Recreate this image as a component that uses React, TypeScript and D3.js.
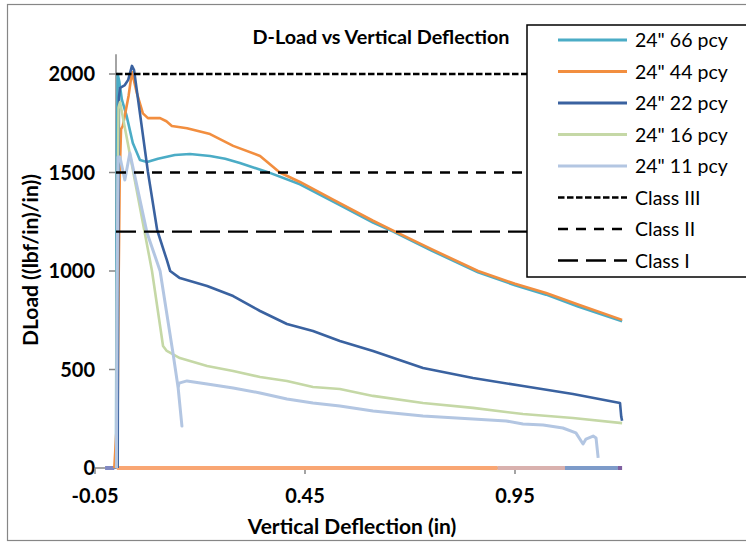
import React from "react";
import * as d3 from "d3";

// ---------- data ----------
const seriesNames = ['24" 66 pcy', '24" 44 pcy', '24" 22 pcy', '24" 16 pcy', '24" 11 pcy'];
const seriesColors = ["#4BACC6", "#F28E3F", "#3A62A0", "#C5D8A6", "#B3C6E2"];

const s66x = [0, 0.001, 0.002, 0.004, 0.008, 0.014, 0.025, 0.04, 0.057, 0.074, 0.1, 0.14, 0.176, 0.224, 0.26, 0.295, 0.36, 0.438, 0.533, 0.612, 0.66, 0.75, 0.862, 0.95, 1.024, 1.1, 1.205];
const s66y = [0, 800, 1600, 2000, 1960, 1870, 1790, 1650, 1563, 1553, 1570, 1589, 1594, 1584, 1570, 1548, 1503, 1440, 1335, 1246, 1200, 1105, 993, 928, 880, 820, 745];

const s44x = [-0.004, 0.004, 0.006, 0.009, 0.012, 0.016, 0.022, 0.03, 0.038, 0.05, 0.064, 0.076, 0.105, 0.12, 0.133, 0.169, 0.224, 0.279, 0.343, 0.39, 0.438, 0.517, 0.612, 0.66, 0.75, 0.862, 0.95, 1.024, 1.1, 1.205];
const s44y = [0, 300, 900, 1500, 1720, 1735, 1800, 1890, 2010, 1900, 1800, 1776, 1776, 1760, 1736, 1725, 1695, 1635, 1584, 1500, 1452, 1362, 1255, 1205, 1112, 1000, 935, 888, 830, 752];

const s22x = [0.004, 0.005, 0.007, 0.0095, 0.021, 0.029, 0.038, 0.043, 0.076, 0.098, 0.121, 0.129, 0.152, 0.217, 0.279, 0.343, 0.407, 0.469, 0.533, 0.612, 0.731, 0.85, 0.969, 1.088, 1.2, 1.203, 1.205];
const s22y = [0, 900, 1880, 1929, 1944, 1970, 2041, 2020, 1503, 1208, 1056, 1000, 964, 924, 873, 797, 731, 695, 645, 594, 508, 457, 416, 376, 330, 260, 240];

const s16x = [0.001, 0.0024, 0.006, 0.0095, 0.0857, 0.112, 0.121, 0.152, 0.217, 0.279, 0.343, 0.407, 0.469, 0.533, 0.612, 0.731, 0.85, 0.969, 1.088, 1.205];
const s16y = [0, 900, 1830, 1858, 1000, 619, 594, 558, 518, 492, 462, 442, 411, 401, 366, 330, 305, 274, 254, 228];

const s11x = [0.001, 0.0024, 0.0048, 0.0095, 0.021, 0.033, 0.074, 0.105, 0.136, 0.148, 0.157, 0.148, 0.15, 0.169, 0.217, 0.279, 0.343, 0.407, 0.469, 0.533, 0.612, 0.731, 0.85, 0.929, 0.969, 1.017, 1.064, 1.095, 1.112, 1.119, 1.136, 1.143, 1.148];
const s11y = [0, 800, 1579, 1579, 1462, 1599, 1193, 1000, 579, 406, 213, 406, 431, 442, 426, 406, 381, 350, 330, 315, 289, 264, 249, 239, 223, 218, 203, 178, 122, 147, 162, 152, 51];

// segments lying on the zero line (x start, x end) and their colours
const baseStart = [-0.026, 0.002, 0.909, 1.069, 1.195];
const baseEnd = [-0.004, 0.909, 1.069, 1.195, 1.205];
const baseColors = ["#8189C2", "#F9A673", "#D9B1AE", "#7D9BC9", "#7E5FA0"];

const classNames = ["Class III", "Class II", "Class I"];
const classValues = [2000, 1500, 1200];
const classDash = ["6.5,2.5", "10,8", "20,8"];

const xTicks = [-0.05, 0.45, 0.95];
const yTicks = [0, 500, 1000, 1500, 2000];

const title = "D-Load vs Vertical Deflection";
const xTitle = "Vertical Deflection (in)";
const yTitle = "DLoad ((lbf/in)/in))";

// ---------- chart ----------
const W = 746;
const H = 542;
const FONT = "Lato, 'Open Sans', sans-serif";

export default function App() {
  const x = d3.scaleLinear().domain([-0.05, 1.2]).range([95, 620]);
  const y = d3.scaleLinear().domain([0, 2100]).range([468, 54.3]);
  const line = d3
    .line<[number, number]>()
    .x((d) => x(d[0]))
    .y((d) => y(d[1]));

  const xs = [s66x, s44x, s22x, s16x, s11x];
  const ys = [s66y, s44y, s22y, s16y, s11y];
  const series = xs.map((arr, i) => arr.map((v, j) => [v, ys[i][j]] as [number, number]));

  const axisColor = "#868686";
  const legendX = 527;
  const legendRowY = (i: number) => 40 + i * 31.5;

  return (
    <svg
      width={W}
      height={H}
      style={{ position: "absolute", left: 0, top: 0, background: "#fff" }}
      fontFamily={FONT}
    >
      <rect x={0} y={0} width={W} height={H} fill="#fff" />
      <rect x={7.5} y={4.5} width={W + 20} height={536} fill="#fff" stroke={axisColor} strokeWidth={1.2} />

      <text x={381} y={44} textAnchor="middle" fontWeight="bold" fontSize={19.8} fill="#000">
        {title}
      </text>

      {/* axes */}
      <line x1={x(0)} x2={x(0)} y1={y(2100)} y2={y(0)} stroke={axisColor} strokeWidth={1.5} />
      <line x1={x(-0.05)} x2={x(1.2)} y1={y(0)} y2={y(0)} stroke={axisColor} strokeWidth={1.5} />
      {yTicks.map((t) => (
        <g key={"yt" + t}>
          <line x1={x(0) - 7} x2={x(0)} y1={y(t)} y2={y(t)} stroke={axisColor} strokeWidth={1.5} />
          <text x={95} y={y(t)} dy="0.36em" textAnchor="end" fontWeight="bold" fontSize={20} fill="#000">
            {t}
          </text>
        </g>
      ))}
      {xTicks.map((t) => (
        <g key={"xt" + t}>
          <line x1={x(t)} x2={x(t)} y1={y(0)} y2={y(0) + 6} stroke={axisColor} strokeWidth={1.5} />
          <text x={x(t)} y={496} dy="0.36em" textAnchor="middle" fontWeight="bold" fontSize={20} fill="#000">
            {t.toFixed(2)}
          </text>
        </g>
      ))}
      <text x={352} y={526} dy="0.36em" textAnchor="middle" fontWeight="bold" fontSize={21} fill="#000">
        {xTitle}
      </text>
      <text
        transform={`translate(30,260) rotate(-90)`}
        dy="0.36em"
        textAnchor="middle"
        fontWeight="bold"
        fontSize={21}
        fill="#000"
      >
        {yTitle}
      </text>

      {/* zero-line segments */}
      {baseStart.map((s, i) => (
        <line
          key={"b" + i}
          x1={x(s)}
          x2={x(baseEnd[i])}
          y1={y(0)}
          y2={y(0)}
          stroke={baseColors[i]}
          strokeWidth={4}
        />
      ))}

      {/* series */}
      {series.map((pts, i) => (
        <path
          key={"s" + i}
          d={line(pts) || ""}
          fill="none"
          stroke={seriesColors[i]}
          strokeWidth={i === 4 ? 3 : 2.6}
          strokeLinejoin="round"
        />
      ))}

      {/* class lines */}
      {classValues.map((v, i) => (
        <line
          key={"c" + i}
          x1={x(0)}
          x2={x(1.2)}
          y1={y(v)}
          y2={y(v)}
          stroke="#000"
          strokeWidth={2.4}
          strokeDasharray={classDash[i]}
        />
      ))}

      {/* legend */}
      <rect x={legendX} y={25} width={W} height={252} fill="#fff" stroke="#000" strokeWidth={1.5} />
      {seriesNames.map((n, i) => (
        <g key={"l" + i}>
          <line x1={558} x2={627} y1={legendRowY(i)} y2={legendRowY(i)} stroke={seriesColors[i]} strokeWidth={2.8} />
          <text x={635} y={legendRowY(i)} dy="0.36em" fontSize={19.5} fill="#000">
            {n}
          </text>
        </g>
      ))}
      {classNames.map((n, i) => (
        <g key={"lc" + i}>
          <line
            x1={558}
            x2={627}
            y1={legendRowY(i + 5)}
            y2={legendRowY(i + 5)}
            stroke="#000"
            strokeWidth={2.4}
            strokeDasharray={classDash[i]}
          />
          <text x={635} y={legendRowY(i + 5)} dy="0.36em" fontSize={19.5} fill="#000">
            {n}
          </text>
        </g>
      ))}
    </svg>
  );
}
